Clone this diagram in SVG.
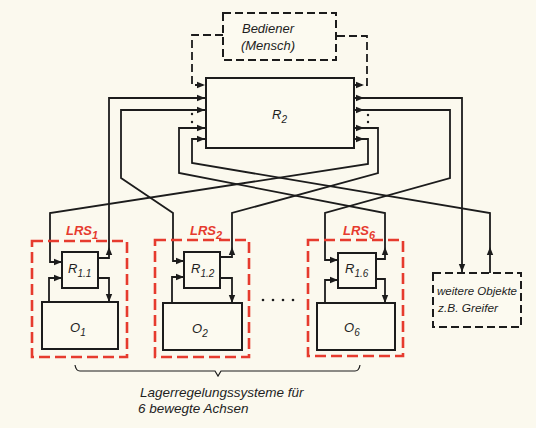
<svg xmlns="http://www.w3.org/2000/svg" xmlns:xlink="http://www.w3.org/1999/xlink" width="536" height="428" viewBox="0 0 536 428">
<style>
.ln{fill:none;stroke:#1c1c1c;stroke-width:1.8;stroke-linejoin:miter}
.dash{stroke-dasharray:8 4}
.box{fill:#fcfaf0;stroke:#1c1c1c;stroke-width:2}
.dbox{fill:#fcfaf0;stroke:#1c1c1c;stroke-width:2;stroke-dasharray:8 4}
.red{fill:none;stroke:#e63b2e;stroke-width:2.6;stroke-dasharray:11 5}
.ah{fill:#1c1c1c}
text{font-family:"Liberation Sans",Arial,sans-serif;font-style:italic;fill:#1e1e1e}
.lbl{font-size:13px}
.sub{font-size:10px}
.rl{font-size:13px;font-weight:bold;fill:#e63b2e}
.rs{font-size:11px;font-weight:bold;fill:#e63b2e}
</style>
<defs>
<path id="ah" d="M0,0 L-8,-3.2 L-8,3.2 Z"/>
</defs>
<rect width="536" height="428" fill="#fbf9ee"/>

<g id="connectors">
<!-- Bediener dashed links -->
<path class="ln dash" d="M223,35 H192 V85 H205"/>
<path class="ln dash" d="M354,85 H367 V36 H336"/>
<!-- inputs on left of R2 -->
<path class="ln" d="M98,258 H109 V98 H205"/>
<path class="ln" d="M205,110 H121 V178 L173,213 V261 H184"/>
<path class="ln" d="M205,128 H179 V173 L385,213 V259 H376"/>
<path class="ln" d="M205,139 H192 V163 L490,213 V273"/>
<!-- outputs on right of R2 -->
<path class="ln" d="M354,98 H462 V273"/>
<path class="ln" d="M354,110 H450 V178 L325,213 V260 H338"/>
<path class="ln" d="M354,128 H378 V173 L232,213 V257 H220"/>
<path class="ln" d="M354,139 H368 V164 L50,213 V262 H62"/>
<!-- local loops -->
<path class="ln" d="M49,302 V278 H62"/>
<path class="ln" d="M98,278 H109 V302"/>
<path class="ln" d="M172,303 V277 H184"/>
<path class="ln" d="M220,278 H232 V303"/>
<path class="ln" d="M325,303 V280 H338"/>
<path class="ln" d="M376,279 H385 V303"/>
<!-- arrowheads -->
<g class="ah">
<use xlink:href="#ah" transform="translate(205,85)"/>
<use xlink:href="#ah" transform="translate(205,98)"/>
<use xlink:href="#ah" transform="translate(205,110)"/>
<use xlink:href="#ah" transform="translate(205,128)"/>
<use xlink:href="#ah" transform="translate(205,139)"/>
<use xlink:href="#ah" transform="translate(364,85)"/>
<use xlink:href="#ah" transform="translate(364,98)"/>
<use xlink:href="#ah" transform="translate(364,110)"/>
<use xlink:href="#ah" transform="translate(364,128)"/>
<use xlink:href="#ah" transform="translate(364,139)"/>
<use xlink:href="#ah" transform="translate(62,262)"/>
<use xlink:href="#ah" transform="translate(62,278)"/>
<use xlink:href="#ah" transform="translate(109,247) rotate(-90)"/>
<use xlink:href="#ah" transform="translate(109,302) rotate(90)"/>
<use xlink:href="#ah" transform="translate(184,261)"/>
<use xlink:href="#ah" transform="translate(184,277)"/>
<use xlink:href="#ah" transform="translate(232,247) rotate(-90)"/>
<use xlink:href="#ah" transform="translate(232,303) rotate(90)"/>
<use xlink:href="#ah" transform="translate(338,260)"/>
<use xlink:href="#ah" transform="translate(338,280)"/>
<use xlink:href="#ah" transform="translate(385,247) rotate(-90)"/>
<use xlink:href="#ah" transform="translate(385,303) rotate(90)"/>
<use xlink:href="#ah" transform="translate(462,272) rotate(90)"/>
<use xlink:href="#ah" transform="translate(490,247) rotate(-90)"/>
</g>
<!-- ellipsis dots at R2 -->
<g class="ah">
<circle cx="192" cy="114" r="1.2"/><circle cx="192" cy="122" r="1.2"/>
<circle cx="368" cy="115" r="1.2"/><circle cx="368" cy="122" r="1.2"/>
</g>
</g>

<g id="bediener">
<rect class="dbox" x="223" y="13" width="113" height="47"/>
<text class="lbl" x="268" y="33" text-anchor="middle">Bediener</text>
<text class="lbl" x="268" y="50" text-anchor="middle">(Mensch)</text>
</g>

<g id="r2">
<rect class="box" x="206" y="78" width="148" height="70"/>
<text class="lbl" x="272" y="119">R<tspan class="sub" dy="4">2</tspan></text>
</g>

<g id="lrs1">
<rect class="red" x="32" y="241" width="95" height="116"/>
<text class="rl" x="66" y="235">LRS<tspan class="rs" dy="4">1</tspan></text>
<g id="r11">
<rect class="box" x="62" y="252" width="36" height="36"/>
<text class="lbl" x="68" y="273">R<tspan class="sub" dy="4">1.1</tspan></text>
</g>
<g id="o1">
<rect class="box" x="42" y="302" width="76" height="47"/>
<text class="lbl" x="70" y="332">O<tspan class="sub" dy="4">1</tspan></text>
</g>
</g>

<g id="lrs2">
<rect class="red" x="155" y="240" width="94" height="117"/>
<text class="rl" x="190" y="235">LRS<tspan class="rs" dy="4">2</tspan></text>
<g id="r12">
<rect class="box" x="184" y="252" width="36" height="36"/>
<text class="lbl" x="191" y="273">R<tspan class="sub" dy="4">1.2</tspan></text>
</g>
<g id="o2">
<rect class="box" x="163" y="303" width="79" height="47"/>
<text class="lbl" x="192" y="333">O<tspan class="sub" dy="4">2</tspan></text>
</g>
</g>

<g id="dots" class="ah">
<circle cx="263" cy="300" r="1.3"/><circle cx="273" cy="300" r="1.3"/>
<circle cx="283" cy="300" r="1.3"/><circle cx="293" cy="300" r="1.3"/>
</g>

<g id="lrs6">
<rect class="red" x="308" y="240" width="95" height="116"/>
<text class="rl" x="343" y="235">LRS<tspan class="rs" dy="4">6</tspan></text>
<g id="r16">
<rect class="box" x="338" y="253" width="38" height="35"/>
<text class="lbl" x="345" y="273">R<tspan class="sub" dy="4">1.6</tspan></text>
</g>
<g id="o6">
<rect class="box" x="317" y="303" width="78" height="47"/>
<text class="lbl" x="344" y="332">O<tspan class="sub" dy="4">6</tspan></text>
</g>
</g>

<g id="weitere">
<rect class="dbox" x="433" y="273" width="88" height="54"/>
<text x="437" y="295" font-size="11.5" textLength="80" lengthAdjust="spacingAndGlyphs">weitere Objekte</text>
<text x="438" y="312" font-size="11.5" textLength="60" lengthAdjust="spacingAndGlyphs">z.B. Greifer</text>
</g>

<g id="brace">
<path fill="none" stroke="#1c1c1c" stroke-width="1.2" d="M75,365 Q76,371 80,371 H215 L218,376 L221,371 H355 Q359,371 360,365"/>
<text x="140" y="397" font-size="13.5">Lagerregelungssysteme für</text>
<text x="138" y="413" font-size="13.5">6 bewegte Achsen</text>
</g>
</svg>
